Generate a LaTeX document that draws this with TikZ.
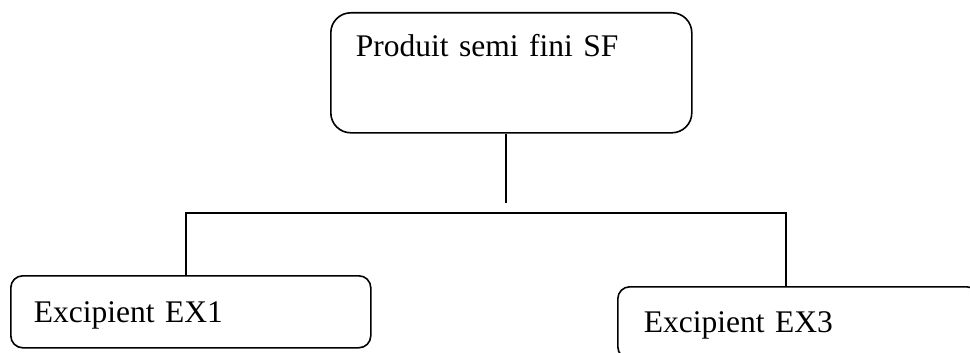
\documentclass[tikz,border=0pt]{standalone}
\usepackage{fontspec}
\setmainfont{Liberation Serif}
\begin{document}
\begin{tikzpicture}[x=1pt,y=-1pt,
  box/.style={draw=black, line width=1.6pt, rectangle, inner ysep=0pt,
    align=left, font=\fontsize{31.5}{36}\selectfont, anchor=north west},
  link/.style={draw=black, line width=1.6pt}]
  \useasboundingbox (0,0) rectangle (970,353);

  % parent block
  \node[box, rounded corners=20pt, inner xsep=25pt, text width=311pt,
        text height=44pt, text depth=76pt] (sf) at (330,12) {Produit semi fini SF};

  % child blocks
  \node[box, rounded corners=12pt, inner xsep=23pt, text width=314pt,
        text height=47pt, text depth=25pt] (ex1) at (10,275) {Excipient EX1};
  \node[box, rounded corners=12pt, inner xsep=26pt, text width=309pt,
        text height=46pt, text depth=26pt] (ex3) at (617,286) {Excipient EX3};

  % branching connector
  \coordinate (stem) at (506,203);
  \coordinate (barL) at (186,213);
  \coordinate (barR) at (786,213);
  \draw[link] (sf.south -| stem) -- (stem);
  \draw[link] (ex1.north -| barL) -- (barL) -- (barR) -- (ex3.north -| barR);
\end{tikzpicture}
\end{document}
